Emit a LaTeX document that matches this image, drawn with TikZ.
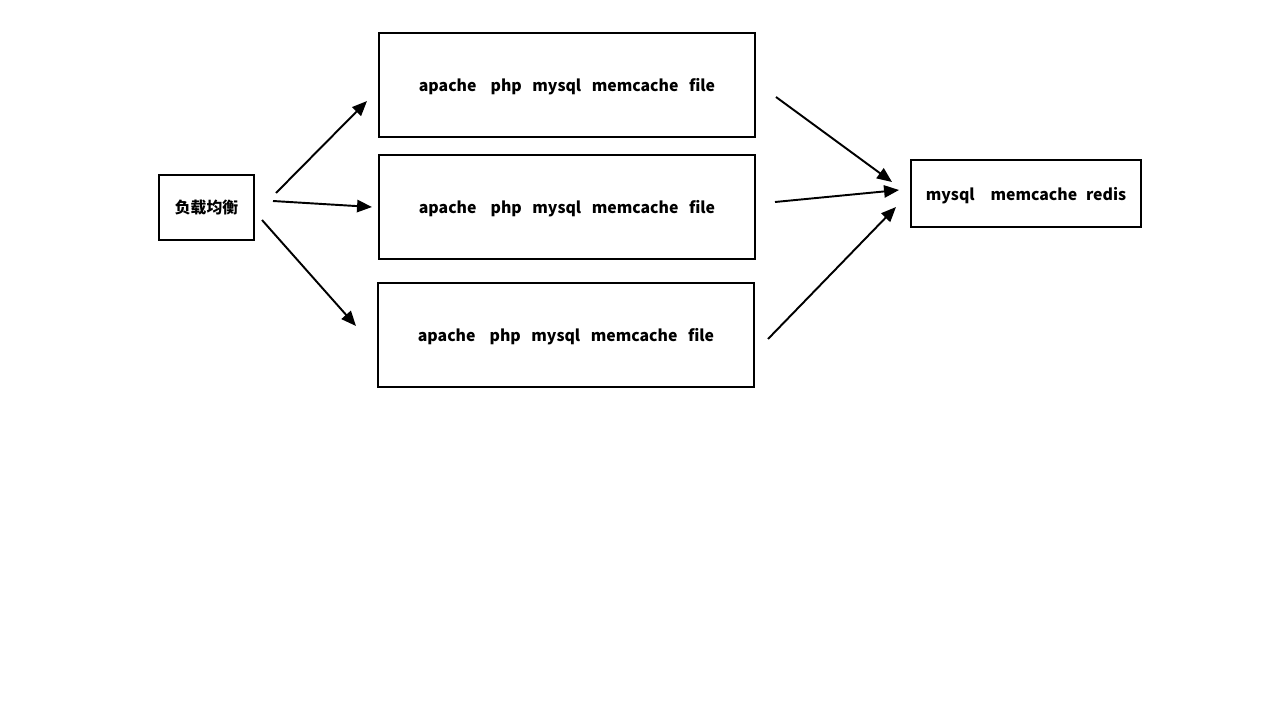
\documentclass[tikz,border=0pt]{standalone}
\usepackage{fontspec}
\setmainfont{Noto Sans CJK SC}
\usetikzlibrary{arrows.meta}
\tikzset{
  box/.style={draw, line width=1.1pt, minimum width=#1, inner sep=0pt, text height=7.4pt, text depth=0pt},
  link/.style={line width=1.1pt, -{Triangle[length=8.5pt,width=7pt]}}
}
\newcommand{\gap}[1]{\hspace*{#1pt}}
\begin{document}
\begin{tikzpicture}[x=0.02cm,y=-0.02cm, font=\fontsize{9}{11}\selectfont\bfseries]
  \useasboundingbox (0,0) rectangle (1280,720);
  \draw
    (206.5,207.5) node[box=95*0.02cm, minimum height=65*0.02cm, text height=6.8pt] (lb){负载均衡}
    (567,85) node[box=376*0.02cm, minimum height=104*0.02cm] (web1){apache\gap{8}php\gap{6}mysql\gap{6}memcache\gap{6}file}
    (567,207) node[box=376*0.02cm, minimum height=104*0.02cm] (web2){apache\gap{8}php\gap{6}mysql\gap{6}memcache\gap{6}file}
    (566,335) node[box=376*0.02cm, minimum height=104*0.02cm] (web3){apache\gap{8}php\gap{6}mysql\gap{6}memcache\gap{6}file}
    (1026,193.5) node[box=230*0.02cm, minimum height=67*0.02cm] (db){mysql\gap{9}memcache\gap{5}redis};
  % arrow ends
  \coordinate (a1) at (276,193);  \coordinate (b1) at (367,101);
  \coordinate (a2) at (273,201);  \coordinate (b2) at (372,207);
  \coordinate (a3) at (262,220);  \coordinate (b3) at (356,326);
  \coordinate (c1) at (776,97);   \coordinate (d1) at (892,182);
  \coordinate (c2) at (775,202);  \coordinate (d2) at (899,190);
  \coordinate (c3) at (768,339);  \coordinate (d3) at (896,207);
  \begin{scope}[link]
    \draw (a1) to (b1);
    \draw (a2) to (b2);
    \draw (a3) to (b3);
    \draw (c1) to (d1);
    \draw (c2) to (d2);
    \draw (c3) to (d3);
  \end{scope}
\end{tikzpicture}
\end{document}
